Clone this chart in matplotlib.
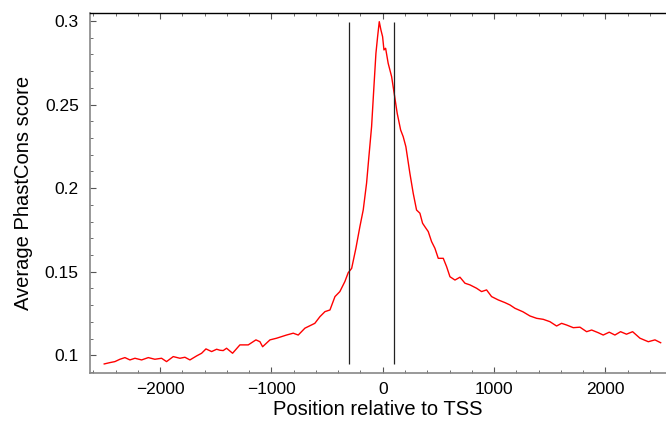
import numpy as np
import matplotlib
matplotlib.use('Agg')
import matplotlib.pyplot as plt
from matplotlib.ticker import MultipleLocator

plt.rcParams['font.family'] = ['Liberation Sans', 'DejaVu Sans']

# position relative to TSS (bp)
pos = [-2502, -2451, -2406, -2361, -2316, -2271, -2226, -2166, -2106, -2047,
       -1987, -1942, -1882, -1822, -1777, -1732, -1672, -1627, -1588, -1537,
       -1492, -1463, -1433, -1403, -1349, -1283, -1208, -1139, -1103, -1079,
       -1013, -953, -864, -804, -759, -699, -610, -564, -519, -474,
       -429, -385, -340, -310, -279, -241, -205, -175, -145, -124,
       -100, -79, -61, -46, -31, -16, -1, 11, 26, 49,
       80, 103, 130, 161, 184, 208, 244, 274, 304, 334,
       358, 379, 409, 439, 469, 499, 544, 574, 604, 649,
       694, 739, 784, 843, 888, 933, 978, 1038, 1098, 1143,
       1188, 1260, 1323, 1383, 1442, 1502, 1562, 1607, 1652, 1712,
       1772, 1832, 1877, 1936, 1981, 2035, 2086, 2137, 2190, 2245,
       2311, 2386, 2446, 2497]
# average PhastCons score
score = [0.0948, 0.0956, 0.0962, 0.0976, 0.0986, 0.0972, 0.0982, 0.0972, 0.0986, 0.0976,
         0.0982, 0.0962, 0.0992, 0.0982, 0.0988, 0.0972, 0.0996, 0.1012, 0.1038, 0.1022,
         0.1036, 0.1030, 0.1028, 0.1042, 0.1012, 0.1062, 0.1062, 0.1092, 0.1081, 0.1051,
         0.1092, 0.1102, 0.1121, 0.1132, 0.1121, 0.1162, 0.1191, 0.1231, 0.1261, 0.1271,
         0.1351, 0.1381, 0.1441, 0.1494, 0.1520, 0.1640, 0.1770, 0.1870, 0.2030, 0.2190,
         0.2368, 0.2607, 0.2807, 0.2906, 0.2996, 0.2946, 0.2906, 0.2827, 0.2837, 0.2747,
         0.2667, 0.2567, 0.2448, 0.2348, 0.2308, 0.2248, 0.2089, 0.1969, 0.1869, 0.1850,
         0.1790, 0.1769, 0.1740, 0.1680, 0.1640, 0.1580, 0.1580, 0.1530, 0.1470, 0.1450,
         0.1467, 0.1431, 0.1421, 0.1401, 0.1381, 0.1391, 0.1351, 0.1331, 0.1315, 0.1301,
         0.1281, 0.1260, 0.1235, 0.1221, 0.1215, 0.1201, 0.1175, 0.1191, 0.1181, 0.1165,
         0.1168, 0.1141, 0.1151, 0.1135, 0.1121, 0.1138, 0.1121, 0.1141, 0.1126, 0.1141,
         0.1102, 0.1081, 0.1092, 0.1075]
# window markers
marks = [-300, 100]

fig = plt.figure(figsize=(6.66, 4.22), dpi=100)
ax = fig.add_axes([0.1351, 0.1154, 0.8649, 0.8546])

ax.plot(pos, score, color='#ff0000', lw=1.0)
ax.vlines(marks, min(score), max(score), color='#222222', lw=0.9)

ax.set_xlim(-2630, 2545)
ax.set_ylim(0.0892, 0.305)
ax.xaxis.set_major_locator(MultipleLocator(1000))
ax.xaxis.set_minor_locator(MultipleLocator(200))
ax.yaxis.set_major_locator(MultipleLocator(0.05))
ax.yaxis.set_minor_locator(MultipleLocator(0.01))
ax.yaxis.set_major_formatter(plt.FuncFormatter(lambda v, p: f'{v:g}'))

ax.tick_params(which='both', direction='in', top=True, right=False,
               colors='#555555', labelcolor='black', labelsize=12.5)
ax.tick_params(which='major', length=4, width=0.8)
ax.tick_params(which='minor', length=2.5, width=0.6)
ax.tick_params(axis='x', pad=6)
ax.tick_params(axis='y', pad=8)

for s in ['left', 'bottom']:
    ax.spines[s].set_color('#888888')
    ax.spines[s].set_linewidth(1.2)
ax.spines['top'].set_color('black')
ax.spines['top'].set_linewidth(1.0)
ax.spines['right'].set_visible(False)

ax.set_xlabel('Position relative to TSS', fontsize=14.5, labelpad=2.5)
ax.set_ylabel('Average PhastCons score', fontsize=14.5, labelpad=8.5)

fig.savefig('out.png', dpi=100)
